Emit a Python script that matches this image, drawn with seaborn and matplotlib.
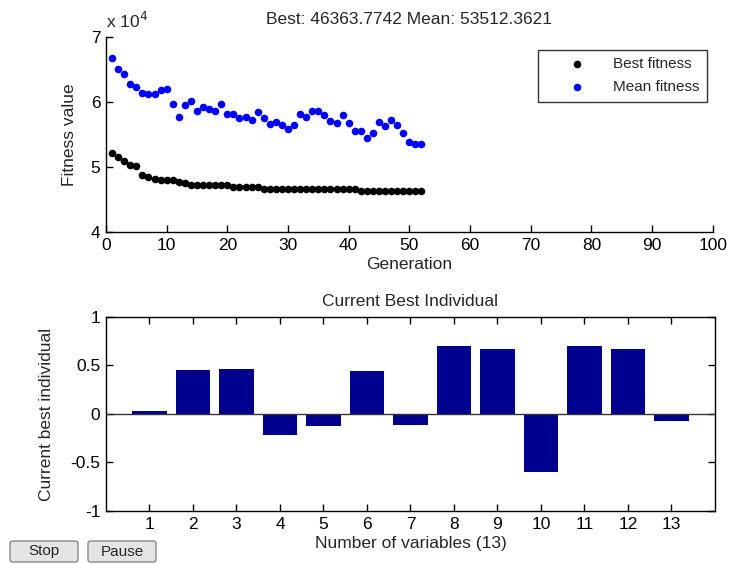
import seaborn as sns
import matplotlib.pyplot as plt
import pandas as pd
import numpy as np
from matplotlib.patches import FancyBboxPatch
from matplotlib.ticker import FuncFormatter

sns.set_style("ticks", {'xtick.direction': 'in', 'ytick.direction': 'in'})
plt.rcParams['font.family'] = ['Liberation Sans', 'DejaVu Sans']
plt.rcParams['font.size'] = 12.5
plt.rcParams['xtick.major.size'] = 5
plt.rcParams['ytick.major.size'] = 5
plt.rcParams['xtick.major.width'] = 1
plt.rcParams['ytick.major.width'] = 1
plt.rcParams['xtick.color'] = 'black'
plt.rcParams['ytick.color'] = 'black'

# GA progress per generation
generations = list(range(1, 53))
best_fitness = [52200, 51500, 50900, 50300, 50200, 48800, 48400, 48100, 48000, 48000,
                48000, 47700, 47500, 47300, 47300, 47300, 47300, 47300, 47300, 47300,
                46900, 46900, 46900, 46950, 46900, 46650, 46650, 46650, 46650, 46650,
                46650, 46650, 46650, 46650, 46650, 46650, 46650, 46650, 46650, 46650,
                46650, 46364, 46364, 46364, 46364, 46364, 46364, 46364, 46364, 46364,
                46364, 46364]
mean_fitness = [66800, 65100, 64300, 62800, 62300, 61400, 61200, 61200, 61800, 62000,
                59700, 57700, 59500, 60100, 58600, 59200, 58900, 58600, 59700, 58200,
                58200, 57500, 57700, 57300, 58500, 57500, 56600, 56900, 56400, 55800,
                56400, 58200, 57700, 58600, 58600, 58000, 57100, 56700, 58000, 56700,
                55600, 55600, 54500, 55200, 56900, 56300, 57300, 56500, 55200, 53900,
                53600, 53512]

# current best individual
variables = list(range(1, 14))
best_individual = [0.03, 0.455, 0.465, -0.22, -0.125, 0.445, -0.115,
                   0.705, 0.672, -0.593, 0.705, 0.672, -0.075]

fig = plt.figure(figsize=(7.31, 5.64), dpi=100)
ax1 = fig.add_axes([0.145, 0.5887, 0.830, 0.3457])
ax2 = fig.add_axes([0.145, 0.094, 0.833, 0.344])

df_fit = pd.DataFrame({'Generation': generations, 'Best fitness': best_fitness,
                       'Mean fitness': mean_fitness})
sns.scatterplot(data=df_fit, x='Generation', y='Best fitness', color='black', s=30,
                linewidth=0, label='Best fitness', ax=ax1)
sns.scatterplot(data=df_fit, x='Generation', y='Mean fitness', color='#0000ff', s=30,
                linewidth=0, label='Mean fitness', ax=ax1)
ax1.set_xlim(0, 100)
ax1.set_ylim(40000, 70000)
ax1.set_xticks(range(0, 101, 10))
ax1.set_yticks([40000, 50000, 60000, 70000])
ax1.yaxis.set_major_formatter(FuncFormatter(lambda v, p: f"{v / 1e4:g}"))
ax1.set_xlabel('Generation', labelpad=3)
ax1.set_ylabel('Fitness value', labelpad=10)
ax1.set_title('Best: 46363.7742 Mean: 53512.3621', fontsize=12.5, pad=9)
ax1.text(0.0, 1.03, r'x 10$^{4}$', transform=ax1.transAxes, ha='left', va='bottom',
         fontsize=12.5)
for s in ['top', 'right']:
    ax1.spines[s].set_visible(False)
for s in ['left', 'bottom']:
    ax1.spines[s].set_color('black')
    ax1.spines[s].set_linewidth(1)
ax1.tick_params(which='major', direction='in', length=5, width=1, color='black', pad=4,
                bottom=True, left=True, top=False, right=False)
leg = ax1.legend(loc='upper right', bbox_to_anchor=(0.99, 0.935), fontsize=11,
                 frameon=True, fancybox=False, borderpad=0.5, handlelength=4.2,
                 handletextpad=0.2, labelspacing=0.6, borderaxespad=0)
leg.get_frame().set_edgecolor('black')
leg.get_frame().set_linewidth(1)

sns.barplot(x=variables, y=best_individual, native_scale=True, color='#00008f',
            saturation=1, width=0.8, linewidth=0, ax=ax2)
ax2.axhline(0, color='#333333', linewidth=1, zorder=3)
ax2.set_xlim(0, 14)
ax2.set_ylim(-1, 1)
ax2.set_xticks(variables)
ax2.set_xticklabels([str(v) for v in variables])
ax2.set_yticks([-1, -0.5, 0, 0.5, 1])
ax2.set_yticklabels(['-1', '-0.5', '0', '0.5', '1'])
ax2.set_xlabel('Number of variables (13)', labelpad=3)
ax2.set_ylabel('Current best individual', labelpad=12)
ax2.set_title('Current Best Individual', fontsize=12.5, pad=8)
for s in ax2.spines.values():
    s.set_visible(True)
    s.set_color('black')
    s.set_linewidth(1)
ax2.tick_params(which='major', direction='in', length=5, width=1, color='black', pad=4,
                bottom=True, left=True, top=True, right=True)

# Stop / Pause buttons
for label, x0 in [('Stop', 10), ('Pause', 88)]:
    btn = FancyBboxPatch((x0 / 731, 2 / 564), 68 / 731, 21 / 564,
                         boxstyle='round,pad=0,rounding_size=0.004',
                         transform=fig.transFigure, facecolor='#e4e4e4',
                         edgecolor='#8a8a8a', linewidth=1)
    fig.patches.append(btn)
    fig.text((x0 + 34) / 731, 12.5 / 564, label, ha='center', va='center', fontsize=11)

fig.savefig('out.png', dpi=100)
